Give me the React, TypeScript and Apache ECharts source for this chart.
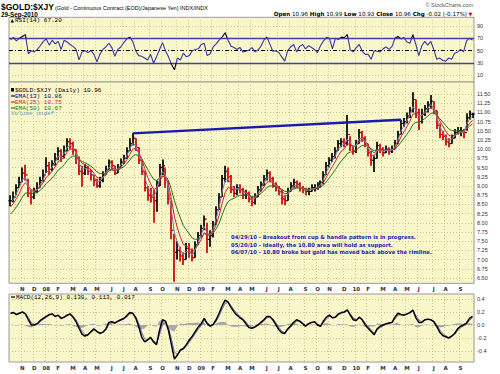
import React, { useEffect, useRef } from 'react';
import * as echarts from 'echarts';

// ---------- tick labels ----------
const monthLabels = ['N', 'D', '08', 'F', 'M', 'A', 'M', 'J', 'J', 'A', 'S', 'O', 'N', 'D', '09', 'F', 'M', 'A', 'M', 'J', 'J', 'A', 'S', 'O', 'N', 'D', '10', 'F', 'M', 'A', 'M', 'J', 'J', 'A', 'S'];
const monthStartWeek = [4, 8, 12, 16, 21, 25, 29, 34, 38, 42, 47, 51, 56, 60, 64, 68, 73, 77, 81, 86, 90, 94, 99, 103, 107, 112, 116, 120, 125, 129, 133, 137, 142, 146, 151];
const priceTicks = [6.5, 6.75, 7, 7.25, 7.5, 7.75, 8, 8.25, 8.5, 8.75, 9, 9.25, 9.5, 9.75, 10, 10.25, 10.5, 10.75, 11, 11.25, 11.5];
const rsiTicks = [10, 30, 50, 70, 90];
const macdTicks = [-0.4, -0.2, 0, 0.2, 0.4];

// ---------- weekly price data, Oct 2007 - Sep 2010 ----------
const closes = [
  8.6, 8.7, 8.95, 9.1, 9.35, 9.3, 8.8, 8.7, 8.85, 8.95,
  9.15, 9.3, 9.55, 9.45, 9.6, 9.75, 9.95, 9.8, 9.95, 10.2,
  10.15, 10.0, 9.75, 9.4, 9.35, 9.5, 9.4, 9.3, 9.15, 9.0,
  9.15, 9.3, 9.45, 9.65, 9.55, 9.35, 9.5, 9.65, 9.75, 9.95,
  10.15, 10.3, 10.05, 9.7, 9.4, 8.95, 8.75, 8.7, 8.6, 9.0,
  9.5, 9.55, 9.2, 8.65, 7.8, 7.2, 7.25, 7.1, 7.0, 7.3,
  7.2, 7.05, 7.4, 7.65, 7.85, 8.1, 7.55, 7.65, 7.95, 8.35,
  8.7, 9.2, 9.4, 9.25, 8.9, 8.8, 8.95, 8.9, 8.75, 8.8,
  8.65, 8.55, 8.7, 8.9, 9.05, 9.2, 9.35, 9.2, 9.0, 8.95,
  8.85, 8.65, 8.6, 8.85, 9.0, 9.1, 9.05, 8.95, 8.9, 8.85,
  8.85, 8.95, 8.95, 9.0, 9.1, 9.3, 9.55, 9.7, 9.8, 9.95,
  10.15, 10.2, 10.15, 10.4, 10.1, 9.95, 10.15, 10.45, 10.3, 10.15,
  9.9, 9.7, 9.75, 10.1, 10.0, 9.9, 10.0, 9.95, 10.0, 10.15,
  10.4, 10.7, 10.75, 10.9, 11.05, 11.35, 11.0, 10.75, 10.95, 11.1,
  11.2, 11.3, 11.05, 10.65, 10.4, 10.35, 10.2, 10.15, 10.3, 10.45,
  10.5, 10.5, 10.45, 10.85, 10.95, 10.96,
];
const highs = [
  8.75, 8.85, 9.05, 9.25, 9.5, 9.58, 9.2, 8.9, 8.95, 9.1,
  9.25, 9.45, 9.78, 9.65, 9.7, 9.9, 10.05, 10.0, 10.1, 10.3,
  10.3, 10.2, 10.0, 9.8, 9.55, 9.6, 9.55, 9.45, 9.3, 9.2,
  9.25, 9.4, 9.55, 9.72, 9.7, 9.55, 9.6, 9.75, 9.85, 10.05,
  10.3, 10.43, 10.3, 10.05, 9.7, 9.4, 9.0, 8.95, 8.9, 9.15,
  9.6, 9.72, 9.5, 9.15, 8.6, 7.7, 7.5, 7.35, 7.2, 7.45,
  7.45, 7.3, 7.5, 7.75, 7.95, 8.2, 8.0, 7.8, 8.05, 8.45,
  8.8, 9.3, 9.55, 9.5, 9.3, 9.0, 9.05, 9.05, 8.95, 8.9,
  8.85, 8.7, 8.8, 9.0, 9.12, 9.3, 9.45, 9.4, 9.25, 9.1,
  9.0, 8.9, 8.75, 8.95, 9.1, 9.2, 9.15, 9.1, 9.0, 8.95,
  8.95, 9.05, 9.05, 9.1, 9.15, 9.4, 9.65, 9.78, 9.9, 10.05,
  10.25, 10.3, 10.3, 10.93, 10.35, 10.1, 10.25, 10.55, 10.5, 10.35,
  10.15, 9.95, 9.85, 10.2, 10.15, 10.05, 10.1, 10.05, 10.1, 10.25,
  10.5, 10.8, 10.85, 11.0, 11.15, 11.55, 11.35, 11.1, 11.1, 11.2,
  11.3, 11.47, 11.3, 11.05, 10.7, 10.5, 10.4, 10.3, 10.4, 10.55,
  10.6, 10.6, 10.55, 10.98, 11.05, 10.99,
];
const lows = [
  8.45, 8.55, 8.75, 8.95, 9.1, 9.15, 8.7, 8.5, 8.65, 8.8,
  8.95, 9.1, 9.35, 9.3, 9.4, 9.55, 9.7, 9.65, 9.75, 9.95,
  10.0, 9.85, 9.6, 9.3, 8.98, 9.3, 9.3, 9.15, 9.0, 8.95,
  8.95, 9.1, 9.3, 9.45, 9.45, 9.3, 9.35, 9.5, 9.6, 9.75,
  9.95, 10.1, 9.95, 9.6, 9.3, 8.85, 8.6, 8.55, 8.0, 8.3,
  9.0, 9.3, 8.95, 8.5, 7.55, 6.4, 7.0, 6.95, 6.85, 7.0,
  7.05, 6.95, 7.05, 7.4, 7.6, 7.8, 7.18, 7.35, 7.6, 7.95,
  8.35, 8.7, 9.1, 9.1, 8.8, 8.7, 8.75, 8.8, 8.65, 8.65,
  8.55, 8.45, 8.5, 8.7, 8.85, 9.0, 9.15, 9.1, 8.95, 8.85,
  8.75, 8.5, 8.48, 8.6, 8.85, 8.95, 8.95, 8.85, 8.8, 8.75,
  8.75, 8.85, 8.85, 8.9, 8.95, 9.05, 9.3, 9.5, 9.65, 9.75,
  9.95, 10.05, 10.05, 10.1, 9.95, 9.85, 9.9, 10.15, 10.2, 10.05,
  9.8, 9.55, 9.38, 9.75, 9.9, 9.8, 9.9, 9.85, 9.9, 10.0,
  10.15, 10.4, 10.6, 10.7, 10.85, 11.0, 10.85, 10.52, 10.7, 10.9,
  11.0, 11.1, 10.95, 10.55, 10.3, 10.25, 10.1, 10.05, 10.15, 10.3,
  10.4, 10.35, 10.3, 10.5, 10.8, 10.85,
];
const rsiValues = [
  68, 71, 66, 70, 73, 76, 45, 50, 48, 52,
  58, 65, 69, 59, 67, 61, 65, 52, 67, 64,
  60, 57, 52, 35, 48, 50, 47, 50, 44, 32,
  44, 52, 56, 62, 55, 41, 52, 56, 63, 69,
  72, 65, 50, 42, 41, 38, 35, 44, 30, 40,
  52, 63, 50, 40, 28, 19, 38, 35, 46, 40,
  42, 50, 52, 53, 60, 62, 42, 45, 56, 61,
  67, 72, 79, 67, 57, 55, 52, 55, 48, 49,
  51, 55, 48, 51, 57, 67, 72, 61, 49, 50,
  47, 40, 33, 50, 56, 60, 48, 57, 60, 53,
  58, 55, 52, 47, 58, 66, 71, 70, 53, 70,
  68, 72, 71, 76, 51, 48, 55, 60, 49, 44,
  44, 36, 50, 49, 48, 53, 56, 52, 57, 70,
  73, 69, 71, 64, 62, 76, 60, 42, 58, 65,
  59, 65, 52, 36, 38, 34, 33, 38, 36, 46,
  48, 52, 48, 66, 70, 67.2,
];
const macdValues = [
  0.18, 0.19, 0.16, 0.18, 0.2, 0.17, 0.08, 0.0, 0.0, 0.02,
  0.07, 0.1, 0.13, 0.16, 0.17, 0.13, 0.15, 0.1, 0.12, 0.15,
  0.17, 0.12, 0.05, -0.05, -0.14, -0.17, -0.15, -0.1, -0.06, -0.1,
  -0.13, -0.11, -0.06, 0.04, 0.05, 0.03, 0.06, 0.08, 0.1, 0.14,
  0.19, 0.18, 0.11, -0.02, -0.18, -0.26, -0.23, -0.19, -0.26, -0.3,
  -0.08, 0.08, 0.06, -0.08, -0.3, -0.52, -0.46, -0.38, -0.36, -0.3,
  -0.23, -0.17, -0.1, -0.03, 0.02, 0.1, 0.02, -0.02, 0.01, 0.08,
  0.18, 0.29, 0.38, 0.35, 0.27, 0.2, 0.15, 0.11, 0.08, 0.02,
  -0.04, -0.05, -0.03, 0.0, 0.04, 0.08, 0.13, 0.13, 0.08, 0.01,
  -0.07, -0.12, -0.13, -0.06, -0.01, 0.04, 0.08, 0.06, 0.02, -0.02,
  0.02, 0.04, 0.05, 0.0, -0.02, 0.06, 0.12, 0.15, 0.11, 0.12,
  0.17, 0.19, 0.2, 0.23, 0.15, 0.08, 0.07, 0.12, 0.08, 0.0,
  -0.05, -0.1, -0.15, -0.06, -0.02, 0.0, 0.02, 0.03, 0.04, 0.12,
  0.18, 0.16, 0.15, 0.17, 0.19, 0.23, 0.11, 0.04, 0.04, 0.08,
  0.09, 0.08, 0.05, -0.02, -0.11, -0.16, -0.18, -0.2, -0.17, -0.13,
  -0.06, -0.02, 0.0, 0.03, 0.1, 0.13,
];
// EMA values at the left edge of the chart
const emaSeed13 = 8.5;
const emaSeed25 = 8.35;
const emaSeed50 = 8.16;
const signalSeed = 0.17;
// rimline (trendline) endpoints: [week index, price]
const rimline = [[41, 10.43], [131, 10.8]];

const DAYS_PER_BAR = 5;
function emaOf(values: number[], days: number, seed: number) {
  const a = 1 - Math.pow(1 - 2 / (days + 1), DAYS_PER_BAR);
  let e = seed;
  return values.map((v) => {
    e = e + a * (v - e);
    return +e.toFixed(4);
  });
}

const BG = '#F9F7C9';
const GRIDC = '#CFCB98';
const SANS = 'Liberation Sans, Arial, sans-serif';
const VERD = 'DejaVu Sans, Verdana, sans-serif';
const MONO = 'Liberation Mono, DejaVu Sans Mono, monospace';

export default function App() {
  const ref = useRef<HTMLDivElement>(null);
  useEffect(() => {
    document.body.style.margin = '0';
    if (!ref.current) return;
    const chart = echarts.init(ref.current, undefined, { renderer: 'svg' });

    const weeks = closes.map((_, i) => String(i));
    const labelByWeek: Record<number, string> = {};
    monthStartWeek.forEach((w, k) => (labelByWeek[w] = monthLabels[k]));
    const isMonth = (i: number) => labelByWeek[i] !== undefined;

    const ohlc = closes.map((c, i) => [i, i === 0 ? c : closes[i - 1], c, lows[i], highs[i]]);
    const ema13 = emaOf(closes, 13, emaSeed13);
    const ema25 = emaOf(closes, 25, emaSeed25);
    const ema50 = emaOf(closes, 50, emaSeed50);
    const signal = emaOf(macdValues, 9, signalSeed);
    const hist = macdValues.map((m, i) => +(m - signal[i]).toFixed(4));

    const xAxis = (gridIndex: number, showLabels: boolean) => ({
      type: 'category',
      gridIndex,
      data: weeks,
      boundaryGap: true,
      axisLine: { show: false },
      axisTick: { show: false },
      axisLabel: {
        show: showLabels,
        interval: (i: number) => isMonth(i),
        formatter: (v: string) => labelByWeek[Number(v)] ?? '',
        fontSize: 5.5,
        fontWeight: 'bold',
        fontFamily: VERD,
        color: '#333',
        margin: 3,
      },
      splitLine: { show: true, interval: (i: number) => isMonth(i), lineStyle: { color: GRIDC, type: [1, 2], width: 1 } },
    });
    const yAxis = (gridIndex: number, min: number, max: number, ticks: number[], fmt: (v: number) => string) => ({
      type: 'value',
      gridIndex,
      position: 'right',
      min,
      max,
      axisLine: { show: false },
      axisTick: { show: false, customValues: ticks },
      splitLine: { show: false },
      axisLabel: {
        customValues: ticks,
        formatter: fmt,
        fontSize: 5.5,
        fontFamily: SANS,
        color: '#333',
        margin: 3,
      },
    });
    const gridLines = (ticks: number[]) => ({
      silent: true,
      z: 1,
      symbol: 'none',
      label: { show: false },
      lineStyle: { color: GRIDC, type: [1, 2], width: 1 },
      data: ticks.map((v) => ({ yAxis: v })),
    });
    const nulls = closes.map(() => null);
    const panel = { show: true, backgroundColor: BG, borderColor: '#9A9A9A', borderWidth: 1 };

    const gText = (x: number, y: number, text: string, font: string, fill: string, align = 'left') => ({
      type: 'text',
      z: 100,
      style: { x, y, text, font, fill, align, verticalAlign: 'middle' },
    });
    const gLine = (x1: number, y: number, x2: number, color: string, w = 1) => ({
      type: 'line',
      z: 100,
      shape: { x1, y1: y, x2, y2: y },
      style: { stroke: color, lineWidth: w },
    });

    const option: any = {
      animation: false,
      backgroundColor: '#FFFFFF',
      grid: [
        { left: 9, top: 17.3, width: 465, height: 64.7, ...panel },
        { left: 9, top: 82, width: 465, height: 201.3, ...panel },
        { left: 9, top: 294, width: 465, height: 68, ...panel },
      ],
      xAxis: [xAxis(0, false), xAxis(1, true), xAxis(2, true)],
      yAxis: [
        yAxis(0, -0.8, 104.1, rsiTicks, (v) => String(v)),
        yAxis(1, 6.356, 11.826, priceTicks, (v) => v.toFixed(2)),
        yAxis(2, -0.566, 0.474, macdTicks, (v) => v.toFixed(1)),
      ],
      visualMap: {
        show: false,
        type: 'piecewise',
        seriesIndex: 1,
        dimension: 1,
        pieces: [
          { lt: 30, color: '#000000' },
          { gte: 30, lte: 70, color: '#3636A8' },
          { gt: 70, color: '#000000' },
        ],
      },
      series: [
        // 0: RSI grid lines
        {
          type: 'line', xAxisIndex: 0, yAxisIndex: 0, data: nulls, z: 1,
          markLine: {
            silent: true, z: 1, symbol: 'none', label: { show: false },
            data: [
              { yAxis: 10, lineStyle: { color: GRIDC, type: [1, 2], width: 1 } },
              { yAxis: 90, lineStyle: { color: GRIDC, type: [1, 2], width: 1 } },
              { yAxis: 30, lineStyle: { color: '#4040A8', type: 'solid', width: 1.3 } },
              { yAxis: 70, lineStyle: { color: '#4040A8', type: 'solid', width: 1.3 } },
              { yAxis: 50, lineStyle: { color: '#000000', type: [4, 2, 1, 2], width: 1 } },
            ],
          },
        },
        // 1: RSI line
        {
          type: 'line', name: 'RSI(14)', xAxisIndex: 0, yAxisIndex: 0, data: rsiValues,
          showSymbol: false, lineStyle: { width: 1.1 }, z: 3,
        },
        // 2: price grid lines
        { type: 'line', xAxisIndex: 1, yAxisIndex: 1, data: nulls, z: 1, markLine: gridLines(priceTicks) },
        // 3: OHLC bars
        {
          type: 'custom', name: '$GOLD:$XJY', xAxisIndex: 1, yAxisIndex: 1, data: ohlc, z: 2,
          encode: { x: 0, y: [1, 2, 3, 4] },
          renderItem: (params: any, api: any) => {
            const i = api.value(0);
            const o = api.value(1), c = api.value(2), l = api.value(3), h = api.value(4);
            const pt = api.coord([i, h]);
            const pb = api.coord([i, l]);
            const po = api.coord([i, o]);
            const pc = api.coord([i, c]);
            const x = Math.round(pt[0]);
            const col = c >= o ? '#000000' : '#CC0000';
            return {
              type: 'group',
              children: [
                { type: 'line', shape: { x1: x, y1: pt[1], x2: x, y2: pb[1] }, style: { stroke: col, lineWidth: 1.7 } },
                { type: 'line', shape: { x1: x - 1.8, y1: po[1], x2: x, y2: po[1] }, style: { stroke: col, lineWidth: 1 } },
                { type: 'line', shape: { x1: x, y1: pc[1], x2: x + 1.8, y2: pc[1] }, style: { stroke: col, lineWidth: 1 } },
              ],
            };
          },
        },
        // 4-6: EMAs
        { type: 'line', name: 'EMA(50)', xAxisIndex: 1, yAxisIndex: 1, data: ema50, showSymbol: false, z: 3, lineStyle: { color: '#1E7A1E', width: 1 }, itemStyle: { color: '#1E7A1E' } },
        { type: 'line', name: 'EMA(25)', xAxisIndex: 1, yAxisIndex: 1, data: ema25, showSymbol: false, z: 3, lineStyle: { color: '#E02020', width: 1 }, itemStyle: { color: '#E02020' } },
        { type: 'line', name: 'EMA(13)', xAxisIndex: 1, yAxisIndex: 1, data: ema13, showSymbol: false, z: 3, lineStyle: { color: '#7A7AB8', width: 1 }, itemStyle: { color: '#7A7AB8' } },
        // 7: rimline
        {
          type: 'line', name: 'rimline', xAxisIndex: 1, yAxisIndex: 1, data: rimline, showSymbol: false, z: 6,
          lineStyle: { color: '#1A1AB0', width: 2.5 }, itemStyle: { color: '#1A1AB0' },
        },
        // 8: MACD histogram + grid lines
        {
          type: 'line', name: 'hist', xAxisIndex: 2, yAxisIndex: 2, data: hist, showSymbol: false, z: 2,
          lineStyle: { width: 0 }, itemStyle: { color: '#A8A8A8' }, areaStyle: { color: '#A8A8A8', opacity: 1 },
          markLine: gridLines(macdTicks),
        },
        // 9: signal
        { type: 'line', name: 'signal', xAxisIndex: 2, yAxisIndex: 2, data: signal, showSymbol: false, z: 3, lineStyle: { color: '#6A6AC0', width: 1 }, itemStyle: { color: '#6A6AC0' } },
        // 10: MACD
        { type: 'line', name: 'MACD', xAxisIndex: 2, yAxisIndex: 2, data: macdValues, showSymbol: false, z: 4, lineStyle: { color: '#000000', width: 1.5 }, itemStyle: { color: '#000000' } },
      ],
      graphic: [
        gText(1, 7, '$GOLD:$XJY', `bold 8.5px ${SANS}`, '#000'),
        gText(55, 7.5, '(Gold - Continuous Contract (EOD)/Japanese Yen) INDX/INDX', `5.5px ${SANS}`, '#000'),
        gText(1, 14, '29-Sep-2010', `bold 6.3px ${SANS}`, '#000'),
        gText(473, 5, '© StockCharts.com', `5.5px ${SANS}`, '#555', 'right'),
        {
          type: 'text', z: 100,
          style: {
            x: 467, y: 14, align: 'right', verticalAlign: 'middle',
            text: '{b|Open} 10.96 {b|High} 10.99 {b|Low} 10.93 {b|Close} 10.96 {b|Chg} -0.02 (-0.17%)',
            font: `5.6px ${VERD}`, fill: '#000',
            rich: { b: { fontWeight: 'bold', fontSize: 5.6, fontFamily: VERD } },
          },
        },
        gText(468.5, 14, '▼', `5px DejaVu Sans`, '#CC0000'),
        // RSI legend
        gText(10.5, 20.5, '▲', `4.5px DejaVu Sans`, '#000'),
        gText(15, 20.5, 'RSI(14) 67.20', `6px ${MONO}`, '#000'),
        // price legend
        { type: 'rect', z: 100, shape: { x: 11, y: 88, width: 3, height: 3.5 }, style: { fill: '#000' } },
        gText(15, 90, '$GOLD:$XJY (Daily) 10.96', `6px ${MONO}`, '#000'),
        gLine(11, 96, 15, '#000080', 1.2),
        gText(15, 96, 'EMA(13) 10.86', `6px ${MONO}`, '#000080'),
        gLine(11, 102, 15, '#E02020', 1.2),
        gText(15, 102, 'EMA(25) 10.75', `6px ${MONO}`, '#E02020'),
        gLine(11, 108, 15, '#1E7A1E', 1.2),
        gText(15, 108, 'EMA(50) 10.67', `6px ${MONO}`, '#1E7A1E'),
        gText(11, 113.5, 'Volume undef', `6px ${MONO}`, '#6699CC'),
        // MACD legend
        gLine(11, 297, 15, '#000', 1.2),
        {
          type: 'text', z: 100,
          style: {
            x: 16, y: 297, verticalAlign: 'middle',
            text: 'MACD(12,26,9) 0.130, {p|0.113}, {g|0.017}',
            font: `6px ${MONO}`, fill: '#000',
            rich: { p: { color: '#6A6AC0', fontSize: 6, fontFamily: MONO }, g: { color: '#999999', fontSize: 6, fontFamily: MONO } },
          },
        },
        // annotations
        gText(231, 237, '04/29/10 - Breakout from cup & handle pattern is in progress.', `bold 5.3px ${VERD}`, '#1A1AB4'),
        gText(231, 244.5, '05/20/10 - Ideally, the 10.80 area will hold as support.', `bold 5.3px ${VERD}`, '#1A1AB4'),
        gText(231, 252, '06/07/10 - 10.80 broke but gold has moved back above the rimline.', `bold 5.3px ${VERD}`, '#1A1AB4'),
      ],
    };
    chart.setOption(option);
    return () => chart.dispose();
  }, []);
  return <div ref={ref} style={{ position: 'absolute', left: 0, top: 0, width: 500, height: 374 }} />;
}
